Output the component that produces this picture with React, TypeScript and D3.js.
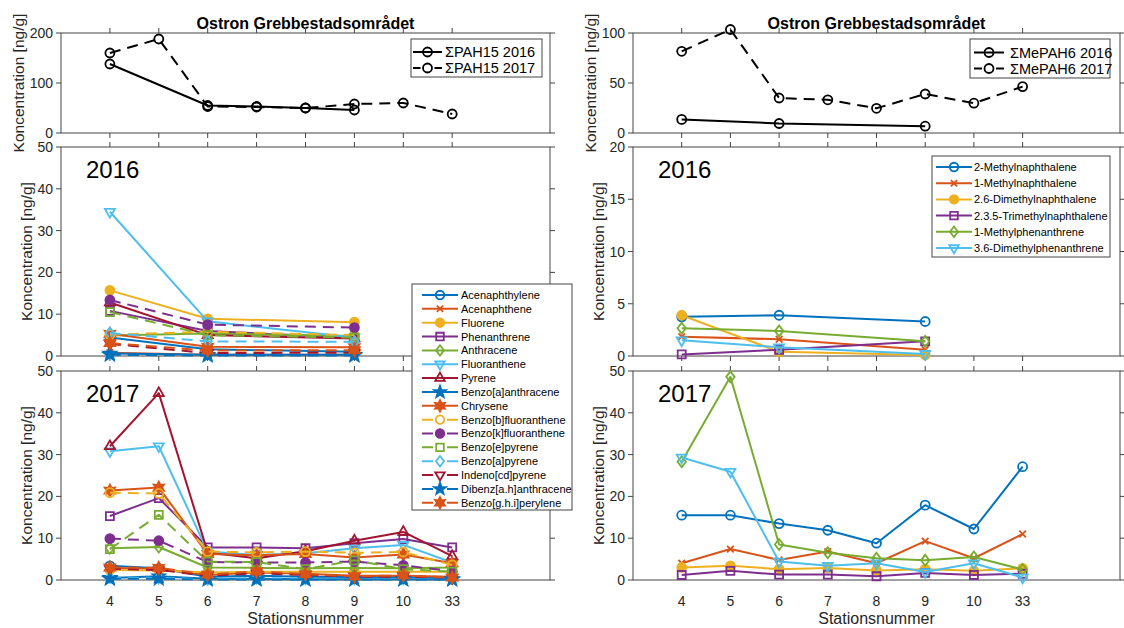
import React from "react";
import * as d3 from "d3";

// ---- data -------------------------------------------------------------
const stations = ["4", "5", "6", "7", "8", "9", "10", "33"];
const stations2016 = ["4", "6", "9"];
const sumStations2016 = ["4", "6", "7", "8", "9"];

const pahNames = [
  "Acenaphthylene",
  "Acenaphthene",
  "Fluorene",
  "Phenanthrene",
  "Anthracene",
  "Fluoranthene",
  "Pyrene",
  "Benzo[a]anthracene",
  "Chrysene",
  "Benzo[b]fluoranthene",
  "Benzo[k]fluoranthene",
  "Benzo[e]pyrene",
  "Benzo[a]pyrene",
  "Indeno[cd]pyrene",
  "Dibenz[a.h]anthracene",
  "Benzo[g.h.i]perylene",
];

// one row per compound, columns follow stations2016
const pah2016 = [
  [4.4, 1.6, 1.0],
  [0.8, 0.3, 0.3],
  [15.7, 8.9, 8.1],
  [10.8, 6.0, 4.3],
  [4.9, 5.4, 4.8],
  [34.5, 8.3, 4.4],
  [12.8, 5.0, 4.2],
  [0.6, 0.3, 0.3],
  [5.3, 2.2, 2.1],
  [5.1, 5.8, 5.0],
  [13.4, 7.5, 6.8],
  [10.5, 5.0, 4.4],
  [5.5, 3.5, 3.4],
  [2.9, 0.7, 0.8],
  [0.3, 0.1, 0.1],
  [3.1, 1.3, 1.4],
];

// one row per compound, columns follow stations
const pah2017 = [
  [3.4, 2.8, 0.8, 1.0, 0.8, 0.7, 0.7, 0.6],
  [2.9, 2.7, 1.2, 1.8, 1.5, 1.0, 1.0, 0.8],
  [2.4, 2.3, 1.8, 2.0, 2.0, 2.0, 2.0, 2.0],
  [15.3, 19.6, 7.8, 7.8, 7.6, 8.8, 9.8, 7.8],
  [7.6, 7.9, 3.0, 2.9, 2.8, 2.9, 2.8, 3.0],
  [30.8, 32.0, 6.8, 6.0, 6.4, 7.6, 8.4, 4.2],
  [32.0, 44.7, 6.6, 5.2, 6.9, 9.4, 11.5, 5.7],
  [0.5, 0.9, 0.3, 0.3, 0.2, 0.2, 0.2, 0.2],
  [21.4, 22.1, 6.2, 5.9, 6.2, 5.4, 6.1, 4.0],
  [20.9, 20.7, 6.8, 6.6, 6.8, 6.5, 6.7, 3.6],
  [9.9, 9.4, 4.3, 4.2, 4.2, 4.4, 3.5, 2.1],
  [7.4, 15.6, 4.4, 4.3, 2.6, 4.7, 2.6, 2.0],
  [0.6, 0.5, 0.2, 0.5, 0.3, 0.3, 0.3, 0.3],
  [2.7, 2.4, 1.0, 1.6, 1.2, 0.8, 0.8, 0.5],
  [0.3, 0.3, 0.1, 0.1, 0.1, 0.1, 0.1, 0.1],
  [3.0, 2.9, 1.3, 2.1, 1.4, 0.9, 1.1, 0.6],
];

const pahSum2016 = [138, 55, 53, 50, 46];
const pahSum2017 = [160, 188, 53, 52, 50, 58, 60, 38];

const mepahNames = [
  "2-Methylnaphthalene",
  "1-Methylnaphthalene",
  "2.6-Dimethylnaphthalene",
  "2.3.5-Trimethylnaphthalene",
  "1-Methylphenanthrene",
  "3.6-Dimethylphenanthrene",
];

const mepah2016 = [
  [3.75, 3.9, 3.3],
  [1.85, 1.6, 0.6],
  [3.9, 0.4, 0.1],
  [0.15, 0.6, 1.4],
  [2.65, 2.4, 1.4],
  [1.5, 0.83, 0.2],
];

const mepah2017 = [
  [15.5, 15.5, 13.5, 11.9, 8.8, 17.9, 12.2, 27.1],
  [4.0, 7.4, 4.8, 6.8, 4.0, 9.3, 5.2, 11.0],
  [3.0, 3.4, 2.6, 2.9, 2.3, 2.6, 2.2, 2.8],
  [1.2, 2.2, 1.3, 1.3, 0.9, 1.7, 1.2, 1.5],
  [28.3, 48.6, 8.5, 6.5, 5.2, 4.7, 5.5, 2.5],
  [29.3, 25.9, 4.4, 3.4, 4.0, 1.9, 4.0, 0.6],
];

const mepahSum2016 = [13.6, 9.5, 6.8];
const mepahSum2017 = [81.7, 103.5, 35, 33.2, 24.7, 39, 29.8, 46.4];

const sumLegendPah = ["\u03A3PAH15 2016", "\u03A3PAH15 2017"];
const sumLegendMepah = ["\u03A3MePAH6 2016", "\u03A3MePAH6 2017"];

const ticksSumPah = [0, 100, 200];
const ticksSumMepah = [0, 50, 100];
const ticks50 = [0, 10, 20, 30, 40, 50];
const ticks20 = [0, 5, 10, 15, 20];

// ---- styling ----------------------------------------------------------
const FONT = "'Liberation Sans', Arial, Helvetica, sans-serif";
const AXIS = "#444444";
const TXT = "#262626";
const PALETTE = ["#0072BD", "#D95319", "#EDB120", "#7E2F8E", "#77AC30", "#4DBEEE", "#A2142F"];
const DASH = "11,7";

type Style = { color: string; marker: string; filled: boolean; dashed: boolean };
const st = (c: number, marker: string, filled = false, dashed = false): Style => ({
  color: PALETTE[c],
  marker,
  filled,
  dashed,
});

const pahStyles: Style[] = [
  st(0, "o"),
  st(1, "x"),
  st(2, ".", true),
  st(3, "s"),
  st(4, "d"),
  st(5, "v"),
  st(6, "^"),
  st(0, "p", true),
  st(1, "h", true),
  st(2, "o", false, true),
  st(3, ".", true, true),
  st(4, "s", false, true),
  st(5, "d", false, true),
  st(6, "v", false, true),
  st(0, "p", true, true),
  st(1, "h", true, true),
];

const mepahStyles: Style[] = [
  st(0, "o"),
  st(1, "x"),
  st(2, ".", true),
  st(3, "s"),
  st(4, "d"),
  st(5, "v"),
];

const sumStyles: Style[] = [
  { color: "#000", marker: "o", filled: false, dashed: false },
  { color: "#000", marker: "o", filled: false, dashed: true },
];

// ---- layout -----------------------------------------------------------
const COLS = { left: [61, 550], right: [633, 1120] };
const ROWS = { top: [33, 133], mid: [147, 356], bot: [371, 580] };

// ---- marker shapes ----------------------------------------------------
function starPath(n: number, ro: number, ri: number) {
  const p = d3.path();
  for (let i = 0; i < n * 2; i++) {
    const r = i % 2 === 0 ? ro : ri;
    const a = -Math.PI / 2 + (i * Math.PI) / n;
    if (i === 0) p.moveTo(r * Math.cos(a), r * Math.sin(a));
    else p.lineTo(r * Math.cos(a), r * Math.sin(a));
  }
  p.closePath();
  return p.toString();
}

function markerPath(m: string, scale = 1): string {
  const p = d3.path();
  switch (m) {
    case "o":
    case ".": {
      const r = 4.5 * scale;
      p.moveTo(r, 0);
      p.arc(0, 0, r, 0, Math.PI * 2);
      p.closePath();
      return p.toString();
    }
    case "s": {
      const h = 4 * scale;
      p.rect(-h, -h, 2 * h, 2 * h);
      return p.toString();
    }
    case "d": {
      const h = 5.5 * scale,
        w = 4.2 * scale;
      p.moveTo(0, -h);
      p.lineTo(w, 0);
      p.lineTo(0, h);
      p.lineTo(-w, 0);
      p.closePath();
      return p.toString();
    }
    case "^":
    case "v": {
      const r = 5.8 * scale;
      const sgn = m === "^" ? -1 : 1;
      p.moveTo(0, sgn * r);
      p.lineTo(r * 0.866, -sgn * r * 0.5);
      p.lineTo(-r * 0.866, -sgn * r * 0.5);
      p.closePath();
      return p.toString();
    }
    case "p":
      return starPath(5, 6.5 * scale, 2.6 * scale);
    case "h":
      return starPath(6, 6 * scale, 3.2 * scale);
    case "x": {
      const r = 3.3 * scale;
      p.moveTo(-r, -r);
      p.lineTo(r, r);
      p.moveTo(-r, r);
      p.lineTo(r, -r);
      return p.toString();
    }
  }
  return "";
}

// ---- pieces -----------------------------------------------------------
type Scales = { x: d3.ScaleLinear<number, number>; y: d3.ScaleLinear<number, number> };

const posOf = (s: string) => stations.indexOf(s) + 1;

function Series({ xs, ys, style, sc, width = 2 }: { xs: string[]; ys: number[]; style: Style; sc: Scales; width?: number }) {
  const pts: [number, number][] = xs.map((s, i) => [sc.x(posOf(s)), sc.y(ys[i])]);
  const d = d3.line()(pts) || "";
  return (
    <g>
      <path d={d} fill="none" stroke={style.color} strokeWidth={width} strokeDasharray={style.dashed ? DASH : undefined} strokeLinejoin="round" />
      {pts.map(([px, py], i) => (
        <path
          key={i}
          transform={`translate(${px},${py})`}
          d={markerPath(style.marker)}
          fill={style.filled ? style.color : "none"}
          stroke={style.color}
          strokeWidth={1.8}
        />
      ))}
    </g>
  );
}

function Frame({
  col,
  row,
  yMax,
  yTicks,
  bottomTicks,
  xLabels,
}: {
  col: number[];
  row: number[];
  yMax: number;
  yTicks: number[];
  bottomTicks: boolean;
  xLabels: boolean;
}) {
  const [x0, x1] = col;
  const [y0, y1] = row;
  const x = d3.scaleLinear().domain([0, 10]).range([x0, x1]);
  const y = d3.scaleLinear().domain([0, yMax]).range([y1, y0]);
  const maxChars = d3.max(yTicks, (t) => String(t).length) || 2;
  const labelX = x0 - 19 - maxChars * 7.8;
  const labelY = (y0 + y1) / 2;
  return (
    <g fontFamily={FONT}>
      <rect x={x0} y={y0} width={x1 - x0} height={y1 - y0} fill="none" stroke={AXIS} strokeWidth={1} />
      {yTicks.map((t) => (
        <g key={"y" + t}>
          <line x1={x0 - 5} x2={x0} y1={y(t)} y2={y(t)} stroke={AXIS} />
          <line x1={x1} x2={x1 + 5} y1={y(t)} y2={y(t)} stroke={AXIS} />
          <text x={x0 - 8} y={y(t)} dy="0.36em" textAnchor="end" fontSize={14} fill={TXT}>
            {t}
          </text>
        </g>
      ))}
      {stations.map((s) => (
        <g key={"x" + s}>
          <line x1={x(posOf(s))} x2={x(posOf(s))} y1={y0 - 5} y2={y0} stroke={AXIS} />
          {bottomTicks && <line x1={x(posOf(s))} x2={x(posOf(s))} y1={y1} y2={y1 + 5} stroke={AXIS} />}
          {xLabels && (
            <text x={x(posOf(s))} y={y1 + 26} textAnchor="middle" fontSize={14} fill={TXT}>
              {s}
            </text>
          )}
        </g>
      ))}
      <text
        transform={`translate(${labelX},${labelY}) rotate(-90)`}
        dy="0.36em"
        textAnchor="middle"
        fontSize={15.5}
        fill={TXT}
      >
        Koncentration [ng/g]
      </text>
      {xLabels && (
        <text x={(x0 + x1) / 2} y={y1 + 44} textAnchor="middle" fontSize={16} fill={TXT}>
          Stationsnummer
        </text>
      )}
    </g>
  );
}

function scalesFor(col: number[], row: number[], yMax: number): Scales {
  return {
    x: d3.scaleLinear().domain([0, 10]).range(col),
    y: d3.scaleLinear().domain([0, yMax]).range([row[1], row[0]]),
  };
}

function Legend({
  x,
  y,
  w,
  h,
  rowY,
  rowH,
  names,
  styles,
  sampleX,
  sampleW,
  textX,
  fontSize,
  markerScale = 1,
}: {
  x: number;
  y: number;
  w: number;
  h: number;
  rowY: number;
  rowH: number;
  names: string[];
  styles: Style[];
  sampleX: number;
  sampleW: number;
  textX: number;
  fontSize: number;
  markerScale?: number;
}) {
  return (
    <g fontFamily={FONT}>
      <rect x={x} y={y} width={w} height={h} fill="#fff" stroke={AXIS} strokeWidth={1} />
      {names.map((n, i) => {
        const s = styles[i];
        const cy = rowY + i * rowH;
        const gap = sampleW / 2 - 7;
        return (
          <g key={n}>
            <line
              x1={sampleX}
              x2={sampleX + sampleW}
              y1={cy}
              y2={cy}
              stroke={s.color}
              strokeWidth={2}
              strokeDasharray={s.dashed ? `${gap},${sampleW - 2 * gap}` : undefined}
            />
            <path
              transform={`translate(${sampleX + sampleW / 2},${cy})`}
              d={markerPath(s.marker, markerScale)}
              fill={s.filled ? s.color : "none"}
              stroke={s.color}
              strokeWidth={1.8}
            />
            <text x={textX} y={cy} dy="0.36em" fontSize={fontSize} fill="#000">
              {n}
            </text>
          </g>
        );
      })}
    </g>
  );
}

function YearTag({ col, row, text }: { col: number[]; row: number[]; text: string }) {
  return (
    <text x={col[0] + 25} y={row[0] + 31} fontFamily={FONT} fontSize={24} fill="#000">
      {text}
    </text>
  );
}

export default function App() {
  const L = COLS.left;
  const R = COLS.right;

  const lTop = scalesFor(L, ROWS.top, 200);
  const lMid = scalesFor(L, ROWS.mid, 50);
  const lBot = scalesFor(L, ROWS.bot, 50);
  const rTop = scalesFor(R, ROWS.top, 100);
  const rMid = scalesFor(R, ROWS.mid, 20);
  const rBot = scalesFor(R, ROWS.bot, 50);

  return (
    <svg
      width={1124}
      height={628}
      viewBox="0 0 1124 628"
      style={{ position: "fixed", left: 0, top: 0, background: "#fff" }}
    >
      <rect width={1124} height={628} fill="#fff" />

      {/* titles */}
      {[L, R].map((c, i) => (
        <text
          key={i}
          x={(c[0] + c[1]) / 2}
          y={29}
          textAnchor="middle"
          fontFamily={FONT}
          fontWeight="bold"
          fontSize={16}
          fill="#000"
        >
          Ostron Grebbestadsområdet
        </text>
      ))}

      {/* left column: PAH */}
      <Frame col={L} row={ROWS.top} yMax={200} yTicks={ticksSumPah} bottomTicks xLabels={false} />
      <Series xs={sumStations2016} ys={pahSum2016} style={sumStyles[0]} sc={lTop} />
      <Series xs={stations} ys={pahSum2017} style={sumStyles[1]} sc={lTop} />
      <Legend
        x={411}
        y={39}
        w={131}
        h={38}
        rowY={52}
        rowH={16}
        names={sumLegendPah}
        styles={sumStyles}
        sampleX={413}
        sampleW={29}
        textX={445}
        fontSize={14.5}
      />

      <Frame col={L} row={ROWS.mid} yMax={50} yTicks={ticks50} bottomTicks xLabels={false} />
      {pah2016.map((ys, i) => (
        <Series key={i} xs={stations2016} ys={ys} style={pahStyles[i]} sc={lMid} />
      ))}
      <YearTag col={L} row={ROWS.mid} text="2016" />

      <Frame col={L} row={ROWS.bot} yMax={50} yTicks={ticks50} bottomTicks={false} xLabels />
      {pah2017.map((ys, i) => (
        <Series key={i} xs={stations} ys={ys} style={pahStyles[i]} sc={lBot} />
      ))}
      <YearTag col={L} row={ROWS.bot} text="2017" />

      <Legend
        x={412}
        y={284}
        w={160}
        h={226}
        rowY={295}
        rowH={13.85}
        names={pahNames}
        styles={pahStyles}
        sampleX={422}
        sampleW={36}
        textX={461}
        fontSize={11}
        markerScale={0.95}
      />

      {/* right column: methylated PAH */}
      <Frame col={R} row={ROWS.top} yMax={100} yTicks={ticksSumMepah} bottomTicks xLabels={false} />
      <Series xs={stations2016} ys={mepahSum2016} style={sumStyles[0]} sc={rTop} />
      <Series xs={stations} ys={mepahSum2017} style={sumStyles[1]} sc={rTop} />
      <Legend
        x={970}
        y={39}
        w={140}
        h={39}
        rowY={52.5}
        rowH={16}
        names={sumLegendMepah}
        styles={sumStyles}
        sampleX={974}
        sampleW={30}
        textX={1010}
        fontSize={14.5}
      />

      <Frame col={R} row={ROWS.mid} yMax={20} yTicks={ticks20} bottomTicks xLabels={false} />
      {mepah2016.map((ys, i) => (
        <Series key={i} xs={stations2016} ys={ys} style={mepahStyles[i]} sc={rMid} />
      ))}
      <YearTag col={R} row={ROWS.mid} text="2016" />
      <Legend
        x={932}
        y={156}
        w={178}
        h={101}
        rowY={167}
        rowH={16.2}
        names={mepahNames}
        styles={mepahStyles}
        sampleX={936}
        sampleW={36}
        textX={974}
        fontSize={11}
        markerScale={0.95}
      />

      <Frame col={R} row={ROWS.bot} yMax={50} yTicks={ticks50} bottomTicks={false} xLabels />
      {mepah2017.map((ys, i) => (
        <Series key={i} xs={stations} ys={ys} style={mepahStyles[i]} sc={rBot} />
      ))}
      <YearTag col={R} row={ROWS.bot} text="2017" />
    </svg>
  );
}
